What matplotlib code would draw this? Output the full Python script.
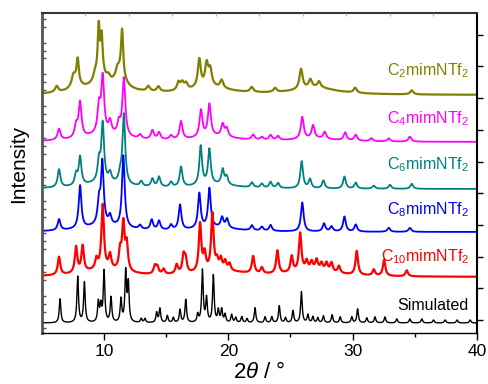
import numpy as np
import matplotlib
matplotlib.use("Agg")
import matplotlib.pyplot as plt

plt.rcParams['font.family'] = ['Liberation Sans', 'DejaVu Sans']
plt.rcParams['mathtext.fontset'] = 'custom'
plt.rcParams['mathtext.rm'] = 'Liberation Sans'
plt.rcParams['mathtext.it'] = 'Liberation Sans:italic'

# ---- data: peak lists (2theta, height, FWHM) ----
sim_pos = [6.47, 7.89, 8.43, 9.55, 9.75, 10.01, 10.57, 11.37, 11.75, 11.96, 13.0, 13.3,
           14.24, 14.5, 15.1, 15.58, 16.12, 16.58, 17.54, 17.92, 18.25, 18.8, 19.2, 19.47,
           19.74, 20.27, 20.6, 21.08, 21.5, 22.15, 22.96, 23.5, 24.1, 24.6, 25.2, 25.88,
           26.4, 26.8, 27.2, 27.65, 28.35, 29.0, 29.93, 30.4, 31.14, 31.8, 32.6, 33.55,
           34.6, 35.56, 36.5, 37.44, 38.4, 39.45]
sim_h = [24, 46, 40, 20, 16, 51, 25, 23, 50, 38, 4, 4,
         10, 14, 7, 5, 13, 23, 8, 52, 24, 47, 12, 13,
         8, 8, 5, 6, 4, 15, 6, 6, 17, 5, 12, 31,
         8, 6, 5, 7, 8, 6, 6, 14, 5, 6, 6, 4,
         4, 4, 3, 3, 3, 3]
sim_w = [0.15] * len(sim_pos)

c10_pos = [6.39, 7.76, 8.29, 9.4, 9.9, 10.49, 11.3, 11.56, 11.83, 14.1, 14.3, 14.8,
           15.85, 16.4, 16.57, 17.73, 18.1, 18.72, 19.1, 19.4, 19.75, 20.1, 22.0, 22.7,
           23.95, 25.1, 25.78, 26.3, 26.7, 27.1, 27.5, 27.9, 28.3, 28.9, 30.33, 31.7,
           32.53, 34.35, 10.0, 19.5, 27.0]
c10_h = [18, 26, 26, 10, 64, 14, 18, 46, 26, 8, 7, 5,
         9, 17, 13, 48, 17, 57, 9, 11, 9, 7, 17, 6,
         23, 16, 38, 9, 8, 10, 7, 8, 9, 7, 24, 6,
         16, 6, 7, 5, 6]
c10_w = [0.24] * 38 + [4.0, 5.0, 4.0]

c8_pos = [6.39, 8.08, 9.6, 9.87, 10.49, 11.56, 12.9, 13.84, 14.43, 15.4, 16.12, 17.67,
          18.48, 19.5, 19.9, 21.9, 22.7, 23.4, 25.95, 27.7, 28.3, 29.34, 30.25, 32.9,
          34.6, 10.0, 19.0]
c8_h = [11, 43, 22, 62, 9, 72, 4, 10, 9, 5, 25, 35,
        39, 10, 9, 5, 4, 6, 29, 8, 5, 15, 7, 4,
        4, 6, 4]
c8_w = [0.26] * 25 + [4.0, 4.0]

c6_pos = [6.39, 7.76, 8.08, 9.6, 9.9, 10.49, 11.3, 11.6, 13.0, 13.9, 14.43, 15.4,
          16.2, 17.78, 18.48, 19.55, 19.87, 21.9, 22.7, 23.4, 24.0, 25.9, 26.57, 27.65,
          29.34, 30.25, 31.7, 33.0, 34.75, 10.0, 19.0]
c6_h = [18, 11, 28, 20, 58, 9, 8, 70, 5, 8, 10, 5,
        20, 39, 35, 15, 8, 5, 4, 6, 5, 27, 9, 8,
        12, 6, 3, 4, 5, 6, 4]
c6_w = [0.26] * 29 + [4.0, 4.0]

c4_pos = [6.39, 7.76, 8.08, 9.6, 9.9, 10.49, 11.2, 11.6, 12.9, 13.9, 14.43, 15.4,
          16.2, 17.8, 18.48, 19.55, 19.87, 22.0, 22.7, 23.4, 24.0, 25.95, 26.82, 27.75,
          29.4, 30.25, 31.5, 32.9, 34.6, 10.0, 19.0, 27.0]
c4_h = [11, 12, 35, 26, 56, 12, 12, 58, 4, 9, 7, 4,
        18, 27, 32, 12, 8, 5, 3, 5, 4, 22, 13, 7,
        8, 6, 3, 3, 5, 7, 5, 3]
c4_w = [0.28] * 29 + [4.0, 4.0, 4.0]

c2_pos = [6.2, 7.54, 7.89, 9.28, 9.58, 9.82, 10.36, 11.08, 11.46, 13.57, 14.38, 16.0,
          16.3, 16.6, 17.67, 18.26, 18.55, 19.47, 21.88, 23.76, 25.85, 26.6, 27.3, 30.2,
          34.75, 7.75, 9.7, 11.3, 10.0, 18.5, 27.0]
c2_h = [6, 8, 22, 6, 45, 34, 5, 7, 45, 5, 5, 8,
        7, 6, 28, 22, 16, 8, 5, 4, 20, 8, 6, 5,
        4, 10, 15, 15, 8, 7, 7]
c2_w = [0.3, 0.3, 0.2, 0.3, 0.18, 0.18, 0.3, 0.3, 0.2, 0.3, 0.3, 0.3,
        0.3, 0.3, 0.28, 0.3, 0.3, 0.3, 0.3, 0.3, 0.3, 0.3, 0.3, 0.3,
        0.3, 0.8, 0.8, 0.9, 4.0, 4.0, 4.0]

names = ["C$_2$mimNTf$_2$", "C$_4$mimNTf$_2$", "C$_6$mimNTf$_2$",
         "C$_8$mimNTf$_2$", "C$_{10}$mimNTf$_2$", "Simulated"]
offsets = [238, 191, 144, 101, 56, 10]
label_y = [262, 214, 168, 123, 76, 28]
colors = ["#808000", "#ff00ff", "#008080", "#0000ff", "#ff0000", "#000000"]
linewidths = [1.6, 1.3, 1.3, 1.3, 1.6, 1.0]

peaks = [(c2_pos, c2_h, c2_w), (c4_pos, c4_h, c4_w), (c6_pos, c6_h, c6_w),
         (c8_pos, c8_h, c8_w), (c10_pos, c10_h, c10_w), (sim_pos, sim_h, sim_w)]

x = np.linspace(5, 40, 3501)


def pattern(pos, h, w):
    y = np.zeros_like(x)
    for p, a, fw in zip(pos, h, w):
        y += a / (1.0 + ((x - p) / (fw / 2.0)) ** 2)
    return y


fig = plt.figure(figsize=(4.88, 3.84), dpi=100)
ax = fig.add_axes([41.75 / 488, 1 - 333 / 384, (477 - 41.75) / 488, 320 / 384])

for (pos, h, w), off, col, lw in zip(peaks, offsets, colors, linewidths):
    ax.plot(x, off + pattern(pos, h, w), color=col, lw=lw)

for name, ly, col in zip(names, label_y, colors):
    ax.text(39.35, ly, name, color=col, ha='right', va='center', fontsize=11.5)

ax.set_xlim(5, 40)
ax.set_ylim(0, 320)
ax.set_xticks([10, 20, 30, 40])
ax.set_xticks([15, 25, 35], minor=True)
ax.tick_params(axis='x', which='major', direction='out', length=5, width=1,
               labelsize=12.5, pad=3, top=False)
ax.tick_params(axis='x', which='minor', direction='out', length=3, width=1, top=False)

# left: inward minor ticks, right: outward ticks
ax.set_yticks(np.arange(13, 320, 31.7))
ax.set_yticks(np.arange(13 - 7.925 * 1, 320, 7.925), minor=True)
ax.tick_params(axis='y', which='major', left=False, right=True, labelleft=False,
               direction='out', length=4, width=1)
ax.tick_params(axis='y', which='minor', left=True, right=False, direction='in',
               length=3, width=1, colors='#555555')

for side, lw, col in [('left', 2.0, '#555555'), ('bottom', 1.0, 'black'),
                      ('right', 1.5, 'black'), ('top', 1.5, '#333333')]:
    ax.spines[side].set_linewidth(lw)
    ax.spines[side].set_color(col)

ax2 = ax.twiny()
ax2.set_xlim(5, 40)
ax2.set_xticks(np.arange(8.5, 40, 3.5))
ax2.tick_params(axis='x', direction='in', length=2, width=0.8, colors='#aaaaaa',
                labeltop=False)
for s in ax2.spines.values():
    s.set_visible(False)

fig.text(18.5 / 488, 1 - 164 / 384, "Intensity", rotation=90, ha='center', va='center',
         fontsize=15)
fig.text(259 / 488, 1 - 372 / 384, r"2$\it{\theta}$ / °", ha='center', va='center',
         fontsize=16)

fig.savefig("out.png", dpi=100)
